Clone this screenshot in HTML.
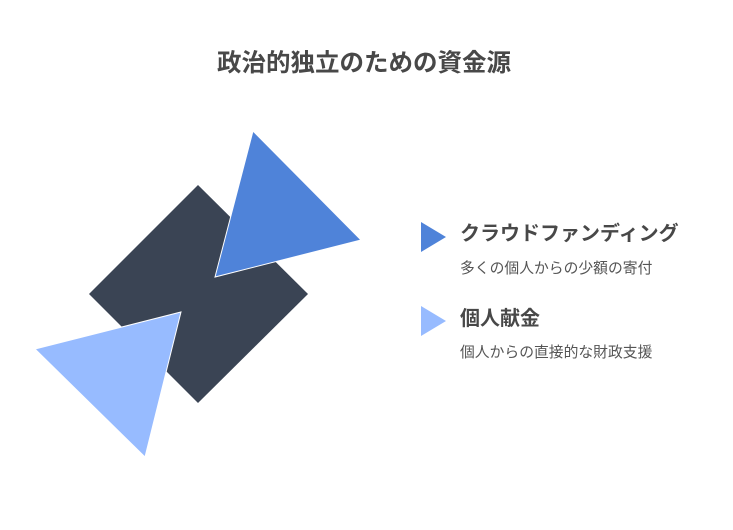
<!DOCTYPE html>
<html><head><meta charset="utf-8"><style>
html,body{margin:0;padding:0;background:#fff;}
body{width:733px;height:530px;position:relative;overflow:hidden;font-family:"Liberation Sans","Noto Sans CJK JP",sans-serif;}
.t{position:absolute;white-space:nowrap;line-height:1;}
</style></head><body>
<svg width="733" height="530" style="position:absolute;left:0;top:0">
<polygon points="198,185 308,294 198,403 89,294" fill="#3a4454"/>
<polygon points="253,131 361,240 215,277" fill="#4f83d9" stroke="#fff" stroke-width="1"/>
<polygon points="35,349 181,312 145,457" fill="#97bbff" stroke="#fff" stroke-width="1"/>
<polygon points="421,222 446,237 421,252" fill="#4f83d9"/>
<polygon points="421,306 446,321 421,336" fill="#97bbff"/>
</svg>
<div class="t" style="left:217px;top:52px;font-size:24.5px;font-weight:bold;color:#484848;">政治的独立のための資金源</div>
<div class="t" style="left:460px;top:224px;font-size:20px;font-weight:bold;color:#484848;">クラウドファンディング</div>
<div class="t" style="left:460px;top:262px;font-size:14.8px;color:#555;">多くの個人からの少額の寄付</div>
<div class="t" style="left:460px;top:309px;font-size:20px;font-weight:bold;color:#484848;">個人献金</div>
<div class="t" style="left:460px;top:346px;font-size:14.8px;color:#555;">個人からの直接的な財政支援</div>
</body></html>
